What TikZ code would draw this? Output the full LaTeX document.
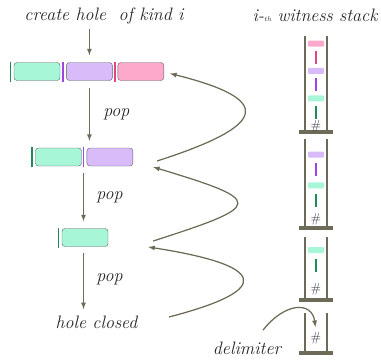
\documentclass[tikz,border=0pt]{standalone}
\usetikzlibrary{arrows,shapes,positioning}
\definecolor{ink}{HTML}{6E6A58}
\definecolor{holegreen}{HTML}{A8F6D8}
\definecolor{holepurple}{HTML}{D9BBF9}
\definecolor{holepink}{HTML}{FCA9CC}
\definecolor{markgreen}{HTML}{1E8C5A}
\definecolor{markpurple}{HTML}{9A45E6}
\definecolor{markpink}{HTML}{E0458A}
\tikzset{
  hole/.style        = {draw=gray!75!black, thin, rounded corners=3pt,
                        minimum width=46pt, minimum height=18pt, inner sep=0pt},
  green hole/.style  = {hole, fill=holegreen},
  purple hole/.style = {hole, fill=holepurple},
  pink hole/.style   = {hole, fill=holepink},
  divider/.style     = {inner sep=0pt, minimum width=1.6pt, minimum height=20pt},
  slot/.style        = {inner sep=0pt, rounded corners=1pt,
                        minimum width=16pt, minimum height=6pt},
  stick/.style       = {inner sep=0pt, minimum width=1.8pt, minimum height=13pt},
  word/.style        = {font=\fontsize{18}{20}\selectfont\itshape, text=black!85},
  hash/.style        = {font=\fontsize{13}{13}\selectfont, text=black!80, inner sep=1pt},
  flow/.style        = {->, draw=ink, line width=1.25pt},
  wall/.style        = {draw=ink, line width=2.6pt},
  floor/.style       = {draw=ink, line width=4pt}
}

\begin{document}
\begin{tikzpicture}[x=1pt, y=1pt, >=latex]
\useasboundingbox (0,0) rectangle (381,360);

% the holes, one row for each step
\node[green hole] (g1) at (37,288.5) {};
\node[purple hole, right=6pt of g1] (p1) {};
\node[pink hole, right=5pt of p1] (k1) {};
\node[divider, fill=markgreen, left=2.5pt of g1] (dg1) {};
\node[divider, fill=markpurple, left=2.2pt of p1] (dp1) {};
\node[divider, fill=markpink, left=1.8pt of k1] (dk1) {};

\node[green hole] (g2) at (58.5,203) {};
\node[purple hole, right=5pt of g2] (p2) {};
\node[divider, fill=markgreen, left=2.5pt of g2] (dg2) {};
\node[divider, fill=markpurple, left=2.2pt of p2] (dp2) {};

\node[green hole] (g3) at (85,122.5) {};
\node[divider, fill=markgreen, left=2.5pt of g3] (dg3) {};

\node[word] (title) at (104,344) {create hole~ of kind i};
\node[word] (closed) at (96.5,38) {hole closed};
\node[word] (heading) at (315,345) {i-{\scriptsize th} witness stack};
\node[word] (delim) at (247,12) {delimiter};

% straight arrows down the left column
\draw[flow, shorten <=1pt, shorten >=7pt] (title.south -| p1) -- (p1.north);
\draw[flow, shorten <=7pt, shorten >=7pt] (p1.south) -- (p1.south |- g2.north)
  node[midway, right=10pt, word] {pop};
\draw[flow, shorten <=6pt, shorten >=7pt] (dp2.south) -- (dp2.south |- g3.north)
  node[midway, right=9pt, word] {pop};
\draw[flow, shorten <=6pt, shorten >=3pt] (dp2 |- g3.south) -- (dp2 |- closed.north)
  node[midway, right=9pt, word] {pop};

% curved arrows back up to the row before
\draw[flow] ([xshift=24pt, yshift=-4pt]p2.east) .. controls +(112,36) and +(104,-26) .. ([xshift=6pt, yshift=-2pt]k1.east);
\draw[flow] ([xshift=45pt, yshift=-3.5pt]g3.east) .. controls +(112,36) and +(112,-34) .. ([xshift=20pt, yshift=-10pt]p2.east);
\draw[flow] ([xshift=28pt, yshift=5pt]closed.east) .. controls +(108,28) and +(116,-18) .. ([xshift=40pt, yshift=-9.5pt]g3.east);

% the witness stacks
\foreach \top/\bot in {324/228, 221/132, 123/60, 47/7} {
  \draw[wall] (305,\top) -- (305,\bot);
  \draw[wall] (327,\top) -- (327,\bot);
  \draw[floor] (299,\bot) -- (333,\bot);
}

\begin{scope}[node distance=3.8pt]
\node[slot, fill=holepink] (s11) at (316,316.5) {};
\node[stick, fill=markpink, below=of s11] (s12) {};
\node[slot, fill=holepurple, below=of s12] (s13) {};
\node[stick, fill=markpurple, below=of s13] (s14) {};
\node[slot, fill=holegreen, below=of s14] (s15) {};
\node[stick, fill=markgreen, below=of s15] (s16) {};
\node[hash] (h1) at (316,234) {\#};
\end{scope}

\begin{scope}[node distance=5.5pt]
\node[slot, fill=holepurple] (s21) at (316,205.5) {};
\node[stick, fill=markpurple, below=of s21] (s22) {};
\node[slot, fill=holegreen, below=of s22] (s23) {};
\node[stick, fill=markgreen, below=of s23] (s24) {};
\node[hash] (h2) at (316,141) {\#};

\node[slot, fill=holegreen] (s31) at (316,110) {};
\node[stick, fill=markgreen, below=of s31] (s32) {};
\node[hash] (h3) at (316,71) {\#};
\end{scope}

\node[hash] (h4) at (316,22) {\#};
\draw[flow, shorten >=4pt] ([xshift=16pt, yshift=8pt]delim.north) .. controls +(22,28) and +(-4,30) .. (h4.north);

\end{tikzpicture}
\end{document}
